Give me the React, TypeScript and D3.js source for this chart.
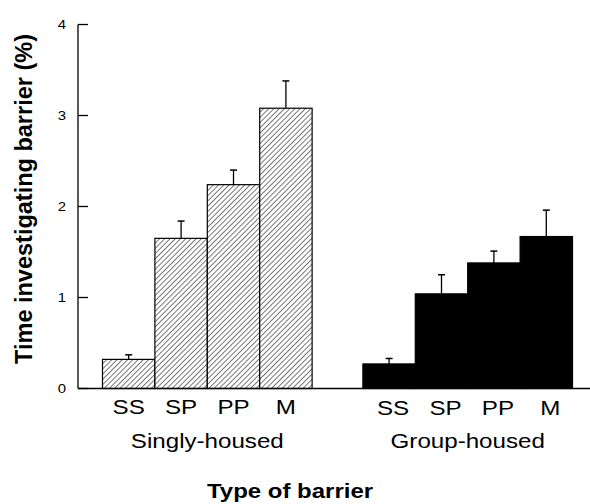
import React from "react";
import * as d3 from "d3";

const groups = ["Singly-housed", "Group-housed"];
const barriers = ["SS", "SP", "PP", "M"];
const singlyMeans = [0.32, 1.65, 2.24, 3.08];
const singlyErr = [0.05, 0.19, 0.16, 0.30];
const groupMeans = [0.27, 1.04, 1.38, 1.67];
const groupErr = [0.06, 0.21, 0.13, 0.29];
const yTicks = [0, 1, 2, 3, 4];

const W = 590;
const H = 504;

export default function App() {
  const y = d3.scaleLinear().domain([0, 4]).range([388.5, 24.5]);
  const x0 = d3.scaleBand<string>().domain(groups).range([102.5, 572.5]).paddingInner(0.195).paddingOuter(0);
  const x1 = d3.scaleBand<string>().domain(barriers).range([0, x0.bandwidth()]).padding(0);
  const series = [
    { g: groups[0], means: singlyMeans, errs: singlyErr, fill: "url(#hatch)" },
    { g: groups[1], means: groupMeans, errs: groupErr, fill: "#000" },
  ];
  const axisX = 78;
  const font = "Arial, 'Liberation Sans', Helvetica, sans-serif";
  const sx = 1.15;
  const hs = 3.7;
  return (
    <svg width={W} height={H} style={{ position: "absolute", left: 0, top: 0, background: "#fff" }} fontFamily={font}>
      <defs>
        <pattern id="hatch" patternUnits="userSpaceOnUse" width={hs} height={hs} patternTransform="rotate(45)">
          <rect width={hs} height={hs} fill="#fff" />
          <line x1={0} y1={0} x2={0} y2={hs} stroke="#000" strokeWidth={1.05} />
        </pattern>
      </defs>
      <rect width={W} height={H} fill="#fff" />
      {series.map((s) =>
        barriers.map((b, i) => {
          const bx = (x0(s.g) as number) + (x1(b) as number);
          const bw = x1.bandwidth();
          const top = y(s.means[i]);
          const cx = bx + bw / 2;
          const et = y(s.means[i] + s.errs[i]);
          const lx = cx + (s.g === groups[1] ? 4 : 0);
          const ly = s.g === groups[1] ? 415 : 414;
          return (
            <g key={s.g + b}>
              <rect x={bx} y={top} width={bw} height={y(0) - top} fill={s.fill} stroke="#000" strokeWidth={1.2} />
              <line x1={cx} x2={cx} y1={top} y2={et} stroke="#000" strokeWidth={1.3} />
              <line x1={cx - 3.5} x2={cx + 3.5} y1={et} y2={et} stroke="#000" strokeWidth={1.5} />
              <text transform={`translate(${lx},${ly}) scale(${sx},1)`} textAnchor="middle" fontSize={21}>{b}</text>
            </g>
          );
        })
      )}
      {/* axes */}
      <line x1={axisX} x2={axisX} y1={y(4)} y2={y(0)} stroke="#000" strokeWidth={1.3} />
      <line x1={axisX} x2={590} y1={y(0)} y2={y(0)} stroke="#000" strokeWidth={1.5} />
      {yTicks.map((t) => (
        <g key={t}>
          <line x1={axisX} x2={axisX + 10} y1={y(t)} y2={y(t)} stroke="#000" strokeWidth={1.3} />
          <text transform={`translate(66,${y(t) + 4.5}) scale(${sx},1)`} textAnchor="end" fontSize={13}>{t}</text>
        </g>
      ))}
      {groups.map((g) => (
        <text key={g} transform={`translate(${(x0(g) as number) + x0.bandwidth() / 2},448) scale(${sx},1)`} textAnchor="middle" fontSize={21}>{g}</text>
      ))}
      <text transform={`translate(290,498) scale(1.2,1)`} textAnchor="middle" fontSize={20} fontWeight="bold">Type of barrier</text>
      <text transform="translate(32,199) rotate(-90)" textAnchor="middle" fontSize={23.5} fontWeight="bold">Time investigating barrier (%)</text>
    </svg>
  );
}
